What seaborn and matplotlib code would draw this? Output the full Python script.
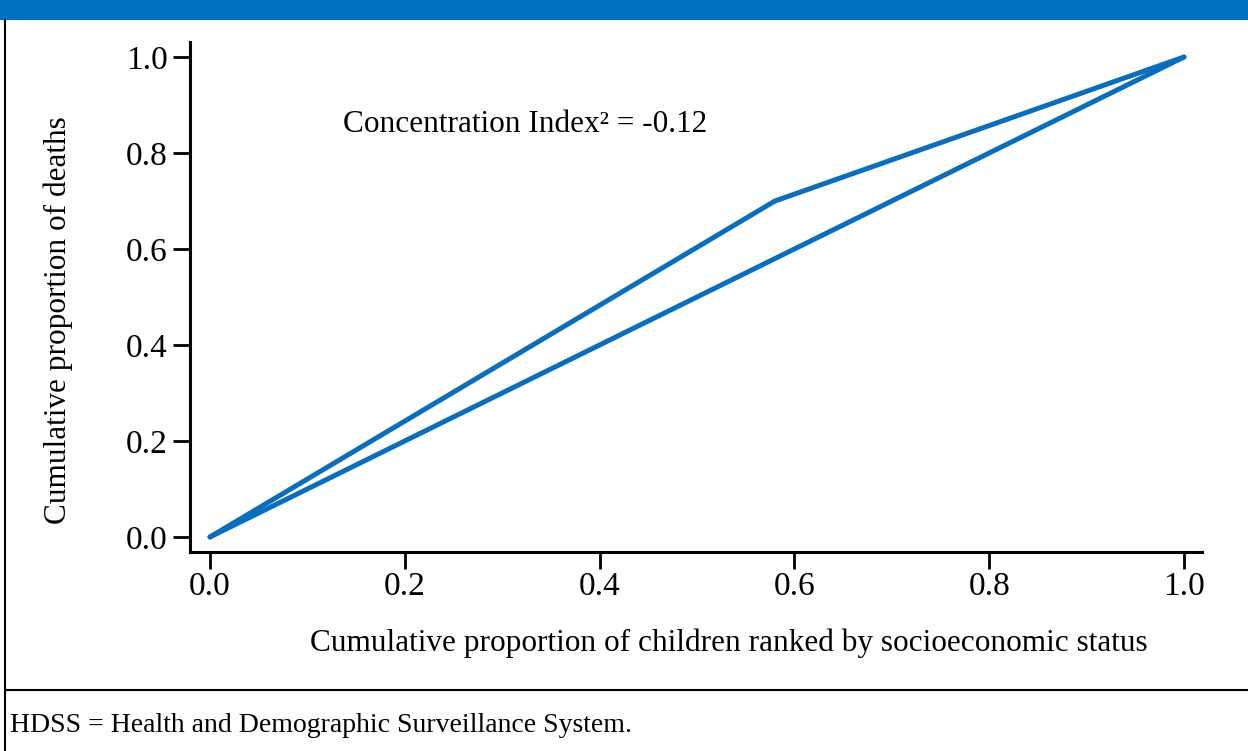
import matplotlib
matplotlib.use("Agg")
import matplotlib.pyplot as plt
import seaborn as sns
import pandas as pd
from matplotlib.patches import Rectangle
from matplotlib.lines import Line2D

# ── Data ──────────────────────────────────────────────────────────────────────
equality_x = [0.0, 1.0]
equality_y = [0.0, 1.0]
curve_x = [0.0, 0.58, 1.0]
curve_y = [0.0, 0.70, 1.0]
ticks = [0.0, 0.2, 0.4, 0.6, 0.8, 1.0]
tick_labels = ["0.0", "0.2", "0.4", "0.6", "0.8", "1.0"]

blue = "#0a6ebd"

sns.set_style("ticks")
plt.rcParams['font.family'] = ['Liberation Serif', 'DejaVu Serif']
plt.rcParams['text.color'] = 'black'
plt.rcParams['axes.labelcolor'] = 'black'
plt.rcParams['xtick.color'] = 'black'
plt.rcParams['ytick.color'] = 'black'

fig = plt.figure(figsize=(12.48, 7.51), dpi=100)
ax = fig.add_axes([190 / 1248, 1 - 552 / 751, (1202 - 190) / 1248, (552 - 42) / 751])

df_eq = pd.DataFrame({'x': equality_x, 'y': equality_y})
df_cc = pd.DataFrame({'x': curve_x, 'y': curve_y})
sns.lineplot(data=df_eq, x='x', y='y', ax=ax, color=blue, linewidth=3.6,
             solid_capstyle='round', solid_joinstyle='round', sort=False)
sns.lineplot(data=df_cc, x='x', y='y', ax=ax, color=blue, linewidth=3.6,
             solid_capstyle='round', solid_joinstyle='round', sort=False)

ax.set_xlim(-0.0205, 1.0185)
ax.set_ylim(-0.0313, 1.0313)
ax.set_xticks(ticks)
ax.set_xticklabels(tick_labels)
ax.set_yticks(ticks)
ax.set_yticklabels(tick_labels)
ax.tick_params(axis='both', labelsize=24, length=12, width=2, direction='out',
               colors='black')
ax.tick_params(axis='x', pad=2)
ax.tick_params(axis='y', pad=4)
for s in ['left', 'bottom']:
    ax.spines[s].set_linewidth(2.2)
    ax.spines[s].set_color('black')
sns.despine(ax=ax)

ax.set_xlabel("Cumulative proportion of children ranked by socioeconomic status",
              fontsize=22.5)
ax.set_ylabel("Cumulative proportion of deaths", fontsize=22.5)
ax.xaxis.set_label_coords((729 - 190) / (1202 - 190), -(628 - 552) / (552 - 42))
ax.yaxis.set_label_coords(-(190 - 73) / (1202 - 190), (552 - 320) / (552 - 42))

ax.text(0.137, 0.86, "Concentration Index² = -0.12", fontsize=22.5,
        transform=ax.transData, va='center', ha='left')

# ── Frame, banner and footnote ───────────────────────────────────────────────
fig.patches.append(Rectangle((0, 1 - 20 / 751), 1, 20 / 751, transform=fig.transFigure,
                             facecolor='#0070c0', edgecolor='none'))
fig.lines.append(Line2D([5 / 1248, 5 / 1248], [0, 1 - 20 / 751], transform=fig.transFigure,
                        color='black', linewidth=1.5))
fig.lines.append(Line2D([5 / 1248, 1], [1 - 690 / 751, 1 - 690 / 751], transform=fig.transFigure,
                        color='black', linewidth=1.5))
fig.text(10 / 1248, 1 - 726 / 751, "HDSS = Health and Demographic Surveillance System.",
         fontsize=20, va='center', ha='left')

fig.savefig("out.png", dpi=100)
